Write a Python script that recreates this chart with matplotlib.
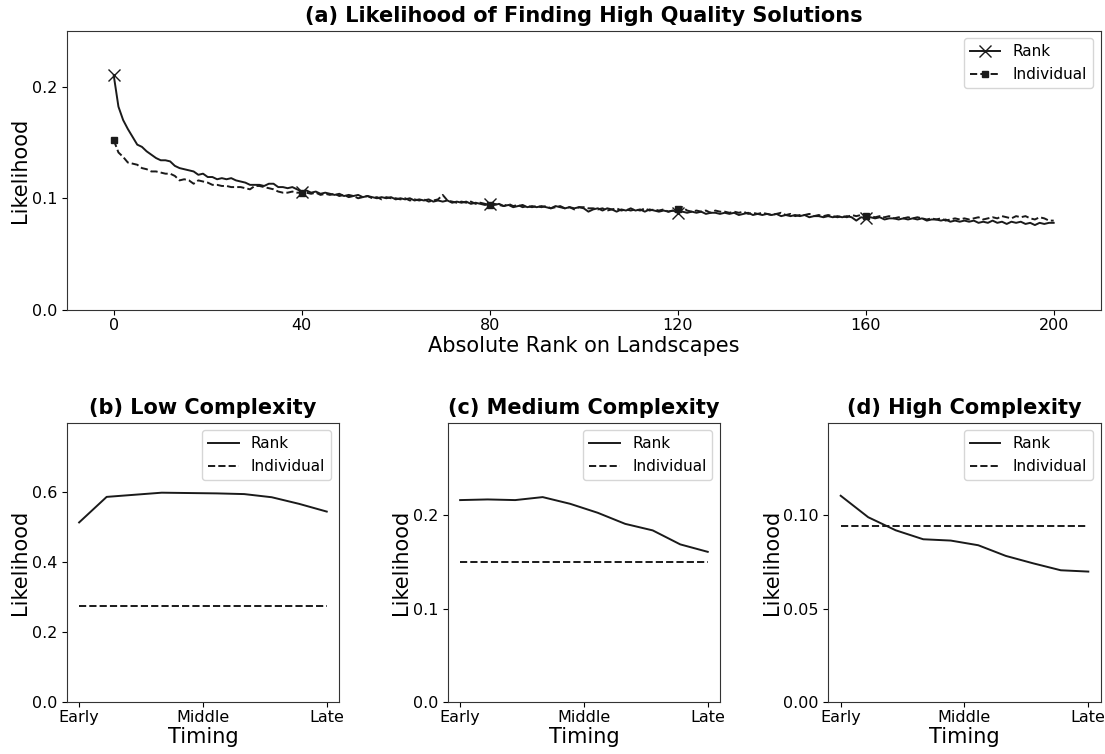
import matplotlib
matplotlib.use("Agg")
import matplotlib.pyplot as plt

# (a) likelihood by absolute rank (0..200)
ranks = list(range(201))
rank_like = [
    0.210, 0.182, 0.170, 0.162, 0.155, 0.148, 0.146, 0.142, 0.139, 0.136,
    0.134, 0.134, 0.133, 0.129, 0.127, 0.126, 0.125, 0.124, 0.121, 0.122,
    0.119, 0.119, 0.117, 0.118, 0.117, 0.118, 0.116, 0.115, 0.114, 0.112,
    0.112, 0.112, 0.111, 0.113, 0.113, 0.110, 0.110, 0.109, 0.110, 0.108,
    0.106, 0.107, 0.105, 0.106, 0.104, 0.105, 0.104, 0.103, 0.104, 0.102,
    0.103, 0.102, 0.103, 0.101, 0.102, 0.101, 0.100, 0.101, 0.100, 0.101,
    0.099, 0.100, 0.099, 0.100, 0.098, 0.099, 0.098, 0.099, 0.097, 0.098,
    0.097, 0.098, 0.096, 0.097, 0.096, 0.097, 0.095, 0.096, 0.095, 0.094,
    0.095, 0.094, 0.095, 0.093, 0.094, 0.092, 0.093, 0.094, 0.092, 0.093,
    0.092, 0.093, 0.092, 0.091, 0.093, 0.092, 0.091, 0.092, 0.091, 0.092,
    0.091, 0.088, 0.090, 0.091, 0.089, 0.091, 0.090, 0.088, 0.090, 0.089,
    0.091, 0.089, 0.090, 0.088, 0.090, 0.089, 0.088, 0.089, 0.088, 0.089,
    0.087, 0.088, 0.087, 0.088, 0.087, 0.088, 0.086, 0.087, 0.087, 0.086,
    0.087, 0.086, 0.087, 0.085, 0.086, 0.087, 0.085, 0.086, 0.085, 0.086,
    0.085, 0.086, 0.084, 0.085, 0.084, 0.085, 0.084, 0.085, 0.083, 0.084,
    0.084, 0.083, 0.084, 0.083, 0.084, 0.083, 0.084, 0.083, 0.080, 0.083,
    0.082, 0.083, 0.082, 0.083, 0.081, 0.082, 0.082, 0.081, 0.082, 0.081,
    0.082, 0.081, 0.082, 0.080, 0.081, 0.081, 0.080, 0.081, 0.079, 0.080,
    0.079, 0.080, 0.079, 0.080, 0.078, 0.079, 0.078, 0.080, 0.078, 0.079,
    0.077, 0.079, 0.078, 0.079, 0.077, 0.078, 0.076, 0.078, 0.077, 0.078,
    0.078,
]
indiv_like = [
    0.152, 0.141, 0.137, 0.132, 0.131, 0.130, 0.127, 0.126, 0.124, 0.124,
    0.123, 0.122, 0.122, 0.120, 0.116, 0.117, 0.116, 0.113, 0.116, 0.115,
    0.114, 0.112, 0.112, 0.111, 0.111, 0.110, 0.110, 0.110, 0.109, 0.108,
    0.111, 0.111, 0.110, 0.109, 0.108, 0.106, 0.105, 0.105, 0.106, 0.105,
    0.105, 0.105, 0.104, 0.105, 0.103, 0.104, 0.103, 0.104, 0.102, 0.103,
    0.101, 0.102, 0.100, 0.101, 0.102, 0.100, 0.101, 0.099, 0.101, 0.100,
    0.100, 0.099, 0.100, 0.098, 0.099, 0.098, 0.099, 0.097, 0.098, 0.099,
    0.103, 0.098, 0.097, 0.096, 0.097, 0.096, 0.097, 0.095, 0.096, 0.095,
    0.094, 0.095, 0.094, 0.093, 0.095, 0.093, 0.094, 0.092, 0.093, 0.092,
    0.093, 0.092, 0.093, 0.091, 0.092, 0.093, 0.091, 0.092, 0.090, 0.092,
    0.092, 0.091, 0.091, 0.090, 0.091, 0.089, 0.090, 0.091, 0.089, 0.090,
    0.089, 0.090, 0.089, 0.091, 0.089, 0.090, 0.089, 0.090, 0.088, 0.089,
    0.090, 0.092, 0.089, 0.088, 0.089, 0.088, 0.089, 0.087, 0.089, 0.088,
    0.088, 0.087, 0.088, 0.087, 0.088, 0.086, 0.087, 0.086, 0.087, 0.086,
    0.085, 0.086, 0.087, 0.085, 0.086, 0.084, 0.085, 0.085, 0.086, 0.084,
    0.085, 0.084, 0.085, 0.084, 0.083, 0.084, 0.083, 0.085, 0.084, 0.085,
    0.084, 0.084, 0.083, 0.084, 0.083, 0.084, 0.082, 0.083, 0.082, 0.083,
    0.082, 0.083, 0.082, 0.081, 0.082, 0.081, 0.082, 0.080, 0.081, 0.082,
    0.081, 0.082, 0.081, 0.082, 0.083, 0.081, 0.082, 0.083, 0.082, 0.084,
    0.083, 0.082, 0.084, 0.083, 0.084, 0.082, 0.081, 0.083, 0.082, 0.080,
    0.080,
]
marked = [0, 40, 80, 120, 160]

# (b)-(d) likelihood by timing (10 steps, early -> late)
timing = list(range(10))
timing_ticks = [0, 4.5, 9]
timing_labels = ["Early", "Middle", "Late"]

low_rank = [0.513, 0.586, 0.592, 0.598, 0.597, 0.596, 0.594, 0.585, 0.566, 0.544]
low_indiv = 0.274
med_rank = [0.2165, 0.2172, 0.2165, 0.2197, 0.2125, 0.2029, 0.1910, 0.1840, 0.1690, 0.1610]
med_indiv = 0.1506
high_rank = [0.1104, 0.0989, 0.0919, 0.0871, 0.0864, 0.0839, 0.0782, 0.0742, 0.0705, 0.0698]
high_indiv = 0.0943

line_col = "#1a1a1a"


def style_axes(a):
    a.tick_params(labelsize=11.5)
    a.tick_params(axis="x", pad=2.5)
    for sp in a.spines.values():
        sp.set_color("#333333")


fig = plt.figure(figsize=(11.05, 7.54), dpi=100)

ax = fig.add_axes([0.0604, 0.5889, 0.9357, 0.3704])
ax.plot(ranks, rank_like, color=line_col, lw=1.4, marker="x", markersize=9,
        markeredgewidth=1.0, markevery=marked, label="Rank")
ax.plot(ranks, indiv_like, color=line_col, lw=1.4, ls="--", marker="s", markersize=5,
        markevery=marked, label="Individual")
ax.set_xlim(-10, 210)
ax.set_ylim(0, 0.25)
ax.set_xticks([0, 40, 80, 120, 160, 200])
ax.set_yticks([0.0, 0.1, 0.2])
style_axes(ax)
ax.set_xlabel("Absolute Rank on Landscapes", fontsize=15, labelpad=2)
ax.set_ylabel("Likelihood", fontsize=15, labelpad=1)
ax.set_title("(a) Likelihood of Finding High Quality Solutions", fontsize=15, fontweight="bold")
ax.legend(loc="upper right", fontsize=11)

panels = [
    ("(b) Low Complexity", low_rank, low_indiv, 0.798, [0.0, 0.2, 0.4, 0.6], "%.1f", 0.0604),
    ("(c) Medium Complexity", med_rank, med_indiv, 0.2995, [0.0, 0.1, 0.2], "%.1f", 0.4052),
    ("(d) High Complexity", high_rank, high_indiv, 0.1495, [0.0, 0.05, 0.10], "%.2f", 0.7496),
]
for title, r, ind, top, yt, fmt, left in panels:
    a = fig.add_axes([left, 0.0690, 0.2465, 0.3704])
    a.plot(timing, r, color=line_col, lw=1.4, label="Rank")
    a.plot(timing, [ind] * len(timing), color=line_col, lw=1.4, ls="--", label="Individual")
    a.set_ylim(0, top)
    a.set_yticks(yt)
    a.set_yticklabels([fmt % v for v in yt])
    a.set_xticks(timing_ticks)
    a.set_xticklabels(timing_labels)
    style_axes(a)
    a.set_xlabel("Timing", fontsize=15, labelpad=1)
    a.set_ylabel("Likelihood", fontsize=15, labelpad=1)
    a.set_title(title, fontsize=15, fontweight="bold")
    a.legend(loc="upper right", fontsize=11)

fig.savefig("out.png", dpi=100)
